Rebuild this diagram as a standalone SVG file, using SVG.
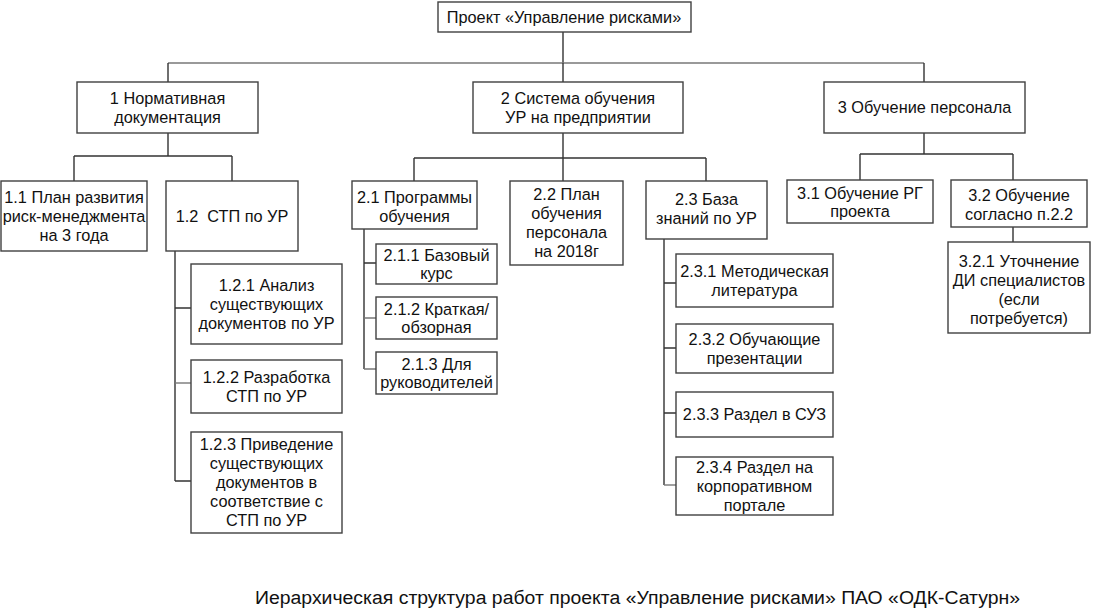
<svg xmlns="http://www.w3.org/2000/svg" width="1097" height="610" viewBox="0 0 1097 610">
<style>
.box{fill:#fff;stroke:#404040;stroke-width:1.4}
.t{font-family:"Liberation Sans",Arial,sans-serif;font-size:16.3px;fill:#111;text-anchor:middle}
.c{fill:none;stroke:#333;stroke-width:1.4}
.g{fill:none;stroke:#777;stroke-width:1.4}
.cap{font-family:"Liberation Sans",Arial,sans-serif;font-size:18px;fill:#111;text-anchor:middle}
</style>
<rect width="1097" height="610" fill="#fff"/>
<g id="connectors">
<path class="c" d="M563,32V63"/>
<path class="g" d="M168,63H924"/>
<path class="c" d="M168,63V82M563,63V82M924,63V82"/>
<path class="c" d="M168,133V156M74,156H232M74,156V181M232,156V181"/>
<path class="c" d="M175,251V481M175,308H191M175,481H191"/>
<path class="g" d="M175,383H191"/>
<path class="c" d="M563,133V181M414,158H706M414,158V181M706,158V181"/>
<path class="c" d="M364,229V369M364,263H376"/>
<path class="g" d="M364,318H376M364,369H376"/>
<path class="c" d="M664,239V485M664,283H676M664,348H676M664,413H676"/>
<path class="g" d="M664,485H676"/>
<path class="c" d="M924,133V154M860,154H1013M860,154V180M1013,154V180M1013,227V242"/>
</g>
<g id="root"><rect class="box" x="438" y="2" width="253" height="30"/><text class="t" x="564" y="22.5">Проект «Управление рисками»</text></g>
<g id="n1"><rect class="box" x="77" y="82" width="181" height="51"/><text class="t" x="167.5" y="104">1 Нормативная</text><text class="t" x="167.5" y="123">документация</text></g>
<g id="n2"><rect class="box" x="473" y="82" width="210" height="51"/><text class="t" x="578" y="104">2 Система обучения</text><text class="t" x="578" y="123">УР на предприятии</text></g>
<g id="n3"><rect class="box" x="824" y="82" width="201" height="51"/><text class="t" x="924.5" y="113">3 Обучение персонала</text></g>
<g id="n11"><rect class="box" x="1" y="181" width="146" height="70"/><text class="t" x="74" y="203">1.1 План развития</text><text class="t" x="74" y="222">риск-менеджмента</text><text class="t" x="74" y="241">на 3 года</text></g>
<g id="n12"><rect class="box" x="166" y="181" width="132" height="70"/><text class="t" x="232" y="222" style="white-space:pre">1.2  СТП по УР</text></g>
<g id="n121"><rect class="box" x="191" y="264" width="151" height="80"/><text class="t" x="266.5" y="291">1.2.1 Анализ</text><text class="t" x="266.5" y="310">существующих</text><text class="t" x="266.5" y="329">документов по УР</text></g>
<g id="n122"><rect class="box" x="191" y="360" width="151" height="53"/><text class="t" x="266.5" y="383">1.2.2 Разработка</text><text class="t" x="266.5" y="402">СТП по УР</text></g>
<g id="n123"><rect class="box" x="191" y="432" width="151" height="101"/><text class="t" x="266.5" y="450">1.2.3 Приведение</text><text class="t" x="266.5" y="469">существующих</text><text class="t" x="266.5" y="488">документов в</text><text class="t" x="266.5" y="507">соответствие с</text><text class="t" x="266.5" y="526">СТП по УР</text></g>
<g id="n21"><rect class="box" x="352" y="181" width="125" height="48"/><text class="t" x="414.5" y="203">2.1 Программы</text><text class="t" x="414.5" y="222">обучения</text></g>
<g id="n22"><rect class="box" x="510" y="181" width="113" height="84"/><text class="t" x="566.5" y="200">2.2 План</text><text class="t" x="566.5" y="219">обучения</text><text class="t" x="566.5" y="238">персонала</text><text class="t" x="566.5" y="257">на 2018г</text></g>
<g id="n23"><rect class="box" x="646" y="181" width="121" height="58"/><text class="t" x="706.5" y="205">2.3 База</text><text class="t" x="706.5" y="224">знаний по УР</text></g>
<g id="n211"><rect class="box" x="376" y="244" width="121" height="40"/><text class="t" x="436.5" y="261">2.1.1 Базовый</text><text class="t" x="436.5" y="279">курс</text></g>
<g id="n212"><rect class="box" x="376" y="297" width="121" height="42"/><text class="t" x="436.5" y="315">2.1.2 Краткая/</text><text class="t" x="436.5" y="333">обзорная</text></g>
<g id="n213"><rect class="box" x="376" y="352" width="121" height="42"/><text class="t" x="436.5" y="370">2.1.3 Для</text><text class="t" x="436.5" y="388">руководителей</text></g>
<g id="n231"><rect class="box" x="676" y="254" width="157" height="53"/><text class="t" x="754.5" y="277">2.3.1 Методическая</text><text class="t" x="754.5" y="296">литература</text></g>
<g id="n232"><rect class="box" x="676" y="324" width="157" height="49"/><text class="t" x="754.5" y="345">2.3.2 Обучающие</text><text class="t" x="754.5" y="364">презентации</text></g>
<g id="n233"><rect class="box" x="676" y="392" width="157" height="45"/><text class="t" x="754.5" y="420">2.3.3 Раздел в СУЗ</text></g>
<g id="n234"><rect class="box" x="676" y="457" width="157" height="58"/><text class="t" x="754.5" y="473">2.3.4 Раздел на</text><text class="t" x="754.5" y="492">корпоративном</text><text class="t" x="754.5" y="511">портале</text></g>
<g id="n31"><rect class="box" x="787" y="180" width="146" height="43"/><text class="t" x="860" y="199">3.1 Обучение РГ</text><text class="t" x="860" y="217">проекта</text></g>
<g id="n32"><rect class="box" x="951" y="180" width="136" height="47"/><text class="t" x="1019" y="201">3.2 Обучение</text><text class="t" x="1019" y="220">согласно п.2.2</text></g>
<g id="n321"><rect class="box" x="948" y="242" width="142" height="91"/><text class="t" x="1019" y="267">3.2.1 Уточнение</text><text class="t" x="1019" y="286">ДИ специалистов</text><text class="t" x="1019" y="305">(если</text><text class="t" x="1019" y="324">потребуется)</text></g>
<text class="cap" x="637.5" y="604" textLength="765" lengthAdjust="spacingAndGlyphs">Иерархическая структура работ проекта «Управление рисками» ПАО «ОДК-Сатурн»</text>
</svg>
